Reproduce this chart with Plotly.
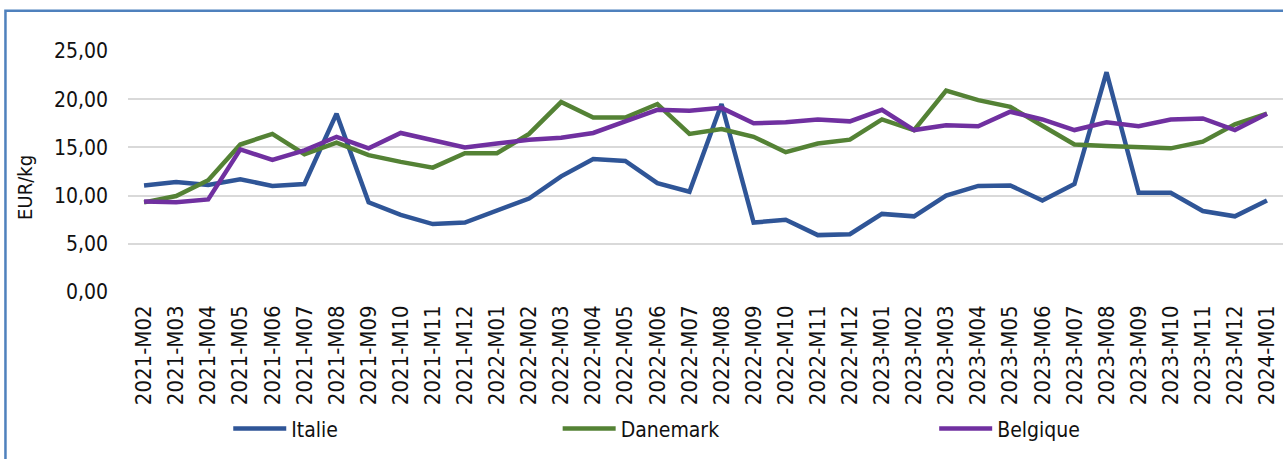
import plotly.graph_objects as go

months = [
    "2021-M02", "2021-M03", "2021-M04", "2021-M05", "2021-M06", "2021-M07", "2021-M08",
    "2021-M09", "2021-M10", "2021-M11", "2021-M12", "2022-M01", "2022-M02", "2022-M03",
    "2022-M04", "2022-M05", "2022-M06", "2022-M07", "2022-M08", "2022-M09", "2022-M10",
    "2022-M11", "2022-M12", "2023-M01", "2023-M02", "2023-M03", "2023-M04", "2023-M05",
    "2023-M06", "2023-M07", "2023-M08", "2023-M09", "2023-M10", "2023-M11", "2023-M12",
    "2024-M01",
]

italie = [11.05, 11.4, 11.1, 11.7, 11.0, 11.2, 18.5, 9.3, 8.0, 7.05, 7.2, 8.5,
          9.7, 12.0, 13.8, 13.6, 11.3, 10.4, 19.5, 7.2, 7.5, 5.9, 6.0, 8.1,
          7.85, 10.0, 11.0, 11.05, 9.5, 11.2, 22.8, 10.3, 10.3, 8.4, 7.85, 9.5]

danemark = [9.3, 9.95, 11.6, 15.3, 16.4, 14.3, 15.5, 14.2, 13.5, 12.9, 14.4, 14.4,
            16.4, 19.7, 18.1, 18.1, 19.5, 16.4, 16.9, 16.1, 14.5, 15.4, 15.8, 17.9,
            16.8, 20.9, 19.9, 19.2, 17.25, 15.3, 15.15, 15.0, 14.9, 15.6, 17.4, 18.5]

belgique = [9.4, 9.3, 9.6, 14.8, 13.7, 14.7, 16.1, 14.9, 16.5, 15.7, 15.0, 15.4,
            15.8, 16.0, 16.5, 17.7, 18.9, 18.8, 19.1, 17.5, 17.6, 17.9, 17.7, 18.9,
            16.8, 17.3, 17.2, 18.7, 17.9, 16.8, 17.6, 17.2, 17.9, 18.0, 16.8, 18.5]

y_ticks = [0, 5, 10, 15, 20, 25]
y_tick_text = ["0,00", "5,00", "10,00", "15,00", "20,00", "25,00"]

series = [
    ("Italie", italie, "#2F5597", "legend", 0.0868),
    ("Danemark", danemark, "#548235", "legend2", 0.372),
    ("Belgique", belgique, "#7030A0", "legend3", 0.698),
]

FONT = "DejaVu Sans Condensed"
fig = go.Figure()
for name, vals, color, lg, _ in series:
    fig.add_trace(go.Scatter(
        x=months, y=vals, name=name, mode="lines",
        line=dict(color=color, width=4.5),
        legend=lg,
    ))

legend_common = dict(
    orientation="h", yref="paper", y=-0.568, yanchor="middle",
    xanchor="left", bgcolor="rgba(0,0,0,0)", itemwidth=53,
    font=dict(family=FONT, size=21, color="#111111"),
)
layout_legends = {}
for name, vals, color, lg, xpos in series:
    layout_legends[lg] = dict(legend_common, x=xpos)

fig.update_layout(
    width=1283, height=459,
    margin=dict(l=128, r=0, t=51, b=167),
    paper_bgcolor="white", plot_bgcolor="white",
    showlegend=True,
    font=dict(family=FONT, color="#111111"),
    xaxis=dict(
        type="category", range=[-0.5, len(months) - 0.5],
        tickangle=-90, showgrid=False, zeroline=False,
        showline=False, ticks="", ticklabelstandoff=8,
        tickfont=dict(family=FONT, size=22, color="#111111"),
    ),
    yaxis=dict(
        range=[0, 25], tickvals=y_ticks, ticktext=y_tick_text,
        showgrid=True, gridcolor="#D9D9D9", gridwidth=1.5,
        zeroline=False, showline=False, ticks="", ticklabelstandoff=19,
        tickfont=dict(family=FONT, size=21, color="#111111"),
    ),
    annotations=[dict(
        text="EUR/kg", textangle=-90, xref="paper", yref="paper",
        x=-0.0892, y=0.436, xanchor="center", yanchor="middle",
        showarrow=False, font=dict(family=FONT, size=20, color="#111111"),
    )],
    shapes=[dict(
        type="rect", xref="paper", yref="paper",
        x0=-0.1061, x1=1.05, y0=-0.8, y1=1.1669,
        line=dict(color="#4F81BD", width=2.5), fillcolor="rgba(0,0,0,0)",
        layer="below",
    )],
    **layout_legends,
)

fig.write_html(
    "out.html",
    config={"displayModeBar": False},
    post_script="document.body.style.margin='0px';",
)
